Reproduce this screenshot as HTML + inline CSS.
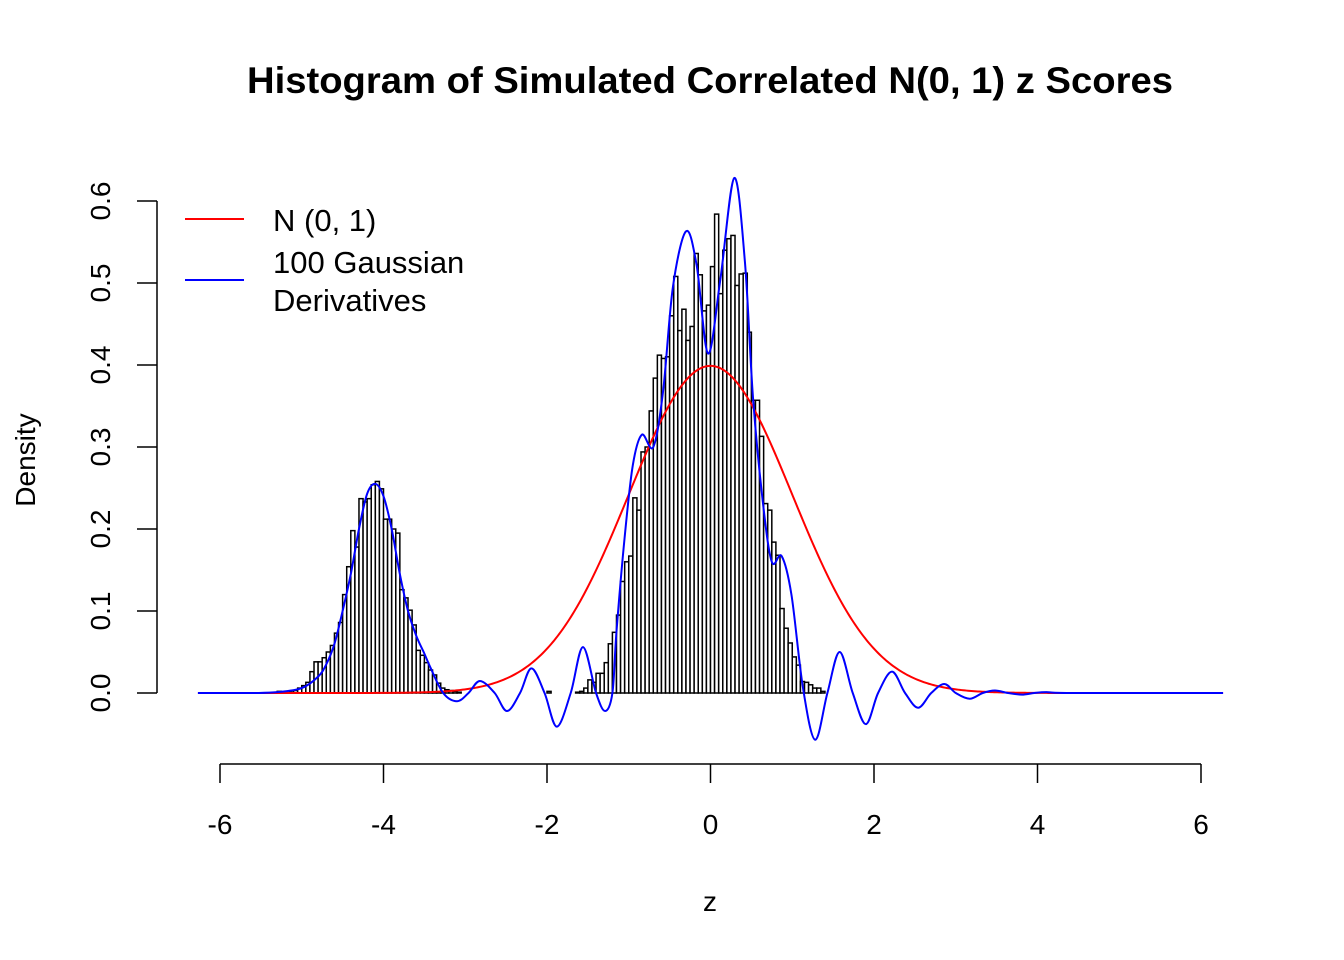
<!DOCTYPE html>
<html><head><meta charset="utf-8"><style>
html,body{margin:0;padding:0;background:#fff;}
svg{display:block;font-family:"Liberation Sans",Arial,sans-serif;}
</style></head><body>
<svg id="chart" width="1344" height="960" viewBox="0 0 1344 960" xmlns="http://www.w3.org/2000/svg">
<text x="710" y="93" text-anchor="middle" font-size="37.5" font-weight="bold" textLength="926" lengthAdjust="spacingAndGlyphs">Histogram of Simulated Correlated N(0, 1) z Scores</text>
<text x="710" y="911" text-anchor="middle" font-size="28">z</text>
<text transform="translate(35,460) rotate(-90)" text-anchor="middle" font-size="28">Density</text>
<g id="bars"></g>
<path id="red" fill="none" stroke="#ff0000" stroke-width="2"/>
<path id="blue" fill="none" stroke="#0000ff" stroke-width="2"/>
<g id="axes"></g>
<g>
<line x1="185" y1="219" x2="244" y2="219" stroke="#ff0000" stroke-width="2"/>
<line x1="185" y1="280" x2="244" y2="280" stroke="#0000ff" stroke-width="2"/>
<text x="273" y="231" font-size="31">N (0, 1)</text>
<text x="273" y="273" font-size="31">100 Gaussian</text>
<text x="273" y="311" font-size="31">Derivatives</text>
</g>
</svg>
<script>
const binStart = -5.3;
const binWidth = 0.05;
const densities = [
0.002,0,0,0.001,0.003,0.006,0.009,0.013,0.026,0.038,0.038,0.043,0.05,0.058,0.073,0.086,0.12,0.154,0.198,0.178,
0.237,0.233,0.237,0.254,0.258,0.249,0.212,0.212,0.2,0.195,0.126,0.116,0.101,0.083,0.052,0.046,0.037,0.028,0.022,0.012,
0.006,0.004,0.003,0.002,0.001,0,0,0,0,0,0,0,0,0,0,0,0,0,0,0,0,0,0,0,0,0,0.002,0,0,0,0,0,0,0.001,0.002,
0.006,0.016,0.013,0.024,0.024,0.037,0.06,0.074,0.095,0.136,0.16,0.167,0.238,0.223,0.294,0.3,0.344,0.384,0.412,0.408,
0.41,0.46,0.508,0.442,0.468,0.43,
0.447,0.536,0.51,0.466,0.473,0.52,0.584,0.487,0.54,0.554,0.558,0.497,0.511,0.512,0.44,0.357,0.357,0.313,0.231,0.223,
0.184,0.168,0.103,0.079,0.061,0.044,0.034,0.014,0.013,0.01,0.006,0.006,0.002];
const blueZ = [-6.27,-5.6,-5.3,-5.0,-4.8,-4.7,-4.6,-4.5,-4.4,-4.3,-4.2,-4.1,-4.0,-3.9,-3.8,-3.7,-3.6,-3.5,-3.43,-3.27,-3.1,-2.96,-2.82,-2.64,-2.49,-2.33,-2.19,-2.03,-1.88,-1.71,-1.56,-1.40,-1.29,-1.2,-1.15,-1.05,-0.95,-0.84,-0.70,-0.58,-0.46,-0.30,-0.17,-0.03,0.12,0.29,0.42,0.52,0.64,0.75,0.87,0.99,1.13,1.28,1.43,1.58,1.74,1.90,2.05,2.22,2.38,2.54,2.70,2.86,3.0,3.17,3.33,3.48,3.64,3.81,3.96,4.11,4.4,6.27];
const blueD = [0,0,0.001,0.006,0.02,0.035,0.06,0.1,0.145,0.2,0.243,0.255,0.24,0.2,0.145,0.1,0.07,0.048,0.032,0,-0.01,0,0.0147,0,-0.022,0,0.03,0,-0.041,0,0.056,0,-0.022,0,0.075,0.19,0.278,0.315,0.30,0.368,0.495,0.563,0.522,0.414,0.504,0.628,0.527,0.36,0.233,0.16,0.167,0.12,0.007,-0.057,0,0.05,0,-0.038,0,0.026,0,-0.018,0,0.011,0,-0.007,0,0.003,0,-0.002,0,0.001,0,0];
const xTicks = [-6,-4,-2,0,2,4,6];
const yTicks = [0,0.1,0.2,0.3,0.4,0.5,0.6];
const yTickLabels = ["0.0","0.1","0.2","0.3","0.4","0.5","0.6"];

const NS = "http://www.w3.org/2000/svg";
const X = z => 710.5 + z * 81.75;
const Y = d => 693 - d * 820;

const bars = document.getElementById('bars');
densities.forEach((d, i) => {
  if (d <= 0) return;
  const r = document.createElementNS(NS, 'rect');
  
  
  const x0 = X(binStart + i * binWidth), x1 = X(binStart + (i + 1) * binWidth);
  r.setAttribute('x', x0); r.setAttribute('width', x1 - x0);
  r.setAttribute('y', Y(d)); r.setAttribute('height', Y(0) - Y(d));
  r.setAttribute('fill', '#fff'); r.setAttribute('stroke', '#000'); r.setAttribute('stroke-width', '1.5');
  bars.appendChild(r);
});

let rp = '';
for (let z = -6.27; z <= 6.27; z += 0.02) {
  const d = Math.exp(-z * z / 2) / Math.sqrt(2 * Math.PI);
  rp += (rp ? 'L' : 'M') + X(z).toFixed(2) + ',' + Y(d).toFixed(2);
}
document.getElementById('red').setAttribute('d', rp);

const pts = blueZ.map((z, i) => [X(z), Y(blueD[i])]);
let bp = 'M' + pts[0][0] + ',' + pts[0][1];
for (let i = 0; i < pts.length - 1; i++) {
  const p0 = pts[i - 1] || pts[i], p1 = pts[i], p2 = pts[i + 1], p3 = pts[i + 2] || p2;
  const c1 = [p1[0] + (p2[0] - p0[0]) / 6, p1[1] + (p2[1] - p0[1]) / 6];
  const c2 = [p2[0] - (p3[0] - p1[0]) / 6, p2[1] - (p3[1] - p1[1]) / 6];
  c1[0] = Math.min(Math.max(c1[0], p1[0]), p2[0]); c2[0] = Math.min(Math.max(c2[0], p1[0]), p2[0]);
  bp += 'C' + c1.join(',') + ' ' + c2.join(',') + ' ' + p2.join(',');
}
document.getElementById('blue').setAttribute('d', bp);

const axes = document.getElementById('axes');
function line(x1, y1, x2, y2, name) {
  const l = document.createElementNS(NS, 'line');
  
  
  l.setAttribute('x1', x1); l.setAttribute('y1', y1); l.setAttribute('x2', x2); l.setAttribute('y2', y2);
  l.setAttribute('stroke', '#000'); l.setAttribute('stroke-width', '1.5');
  axes.appendChild(l);
}
function text(x, y, s, name, tr) {
  const t = document.createElementNS(NS, 'text');
  
  
  t.setAttribute('x', x); t.setAttribute('y', y);
  t.setAttribute('text-anchor', 'middle'); t.setAttribute('font-size', '28');
  if (tr) t.setAttribute('transform', tr);
  t.textContent = s;
  axes.appendChild(t);
}
line(X(xTicks[0]), 764, X(xTicks[xTicks.length - 1]), 764, 'x-axis-line');
xTicks.forEach(v => {
  line(X(v), 764, X(v), 783, 'x-tick');
  text(X(v), 834, String(v), 'x-tick-label');
});
line(157, Y(yTicks[0]), 157, Y(yTicks[yTicks.length - 1]), 'y-axis-line');
yTicks.forEach((v, i) => {
  line(137, Y(v), 157, Y(v), 'y-tick');
  text(110, Y(v), yTickLabels[i], 'y-tick-label', 'rotate(-90 110 ' + Y(v) + ')');
});
</script>
</body></html>
